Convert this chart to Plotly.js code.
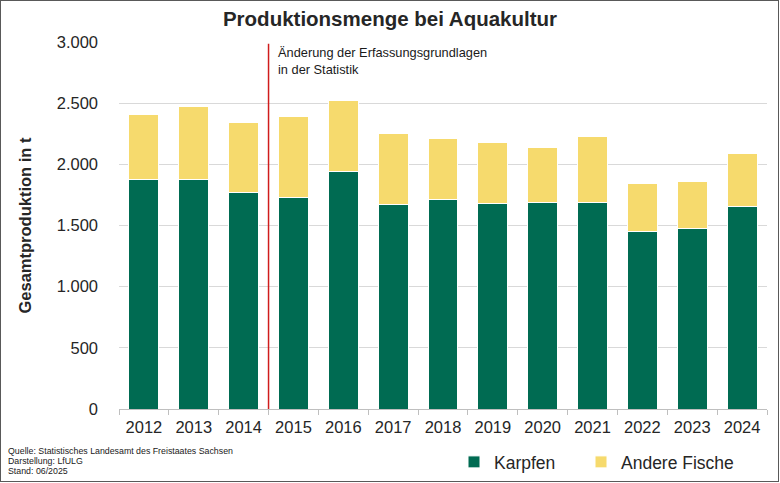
<!DOCTYPE html>
<html>
<head>
<meta charset="utf-8">
<script src="https://cdn.plot.ly/plotly-3.0.1.min.js"></script>
<style>
  html, body { margin: 0; padding: 0; background: #fff; }
  #wrap { position: relative; width: 780px; height: 483px; }
  #chart { width: 780px; height: 483px; }
  #frame { position: absolute; left: 0; top: 0; width: 777px; height: 480px;
           border: 1.5px solid #595959; pointer-events: none; }
</style>
</head>
<body>
<div id="wrap">
  <div id="chart"></div>
  <div id="frame"></div>
</div>
<script>
var years = ['2012', '2013', '2014', '2015', '2016', '2017', '2018',
             '2019', '2020', '2021', '2022', '2023', '2024'];
var karpfen = [1872, 1875, 1768, 1725, 1940, 1673, 1711, 1676, 1690, 1690, 1452, 1474, 1657];
var gesamt = [2406, 2469, 2344, 2393, 2520, 2254, 2210, 2177, 2136, 2226, 1847, 1856, 2087];
var andere = gesamt.map(function (g, i) { return g - karpfen[i]; });

var sourceLines = ['Quelle: Statistisches Landesamt des Freistaates Sachsen',
                   'Darstellung: LfULG',
                   'Stand: 06/2025'];

var W = 780, H = 483;
var plotL = 119, plotR = 767, plotT = 42, plotB = 409;
var pw = plotR - plotL, ph = plotB - plotT;
function px(x) { return (x - plotL) / pw; }
function py(y) { return (plotB - y) / ph; }

var font = 'Liberation Sans, Arial, sans-serif';

var traces = [
    {
        type: 'bar',
        name: 'Karpfen',
        legend: 'legend',
        x: years,
        y: karpfen,
        marker: { color: '#006b52', line: { color: '#ffffff', width: 1 } },
        hoverinfo: 'skip'
    },
    {
        type: 'bar',
        name: 'Andere Fische',
        legend: 'legend2',
        x: years,
        y: andere,
        marker: { color: '#f6da6d', line: { color: '#ffffff', width: 1 } },
        hoverinfo: 'skip'
    }
];

var annotations = [
    {
        xref: 'x', yref: 'y', x: 2.5, y: 2990,
        xanchor: 'left', yanchor: 'top', xshift: 7,
        align: 'left', showarrow: false,
        text: 'Änderung der Erfassungsgrundlagen<br>in der Statistik',
        font: { family: font, size: 12.8, color: '#1a1a1a' }
    }
];
sourceLines.forEach(function (line, i) {
    annotations.push({
        xref: 'paper', yref: 'paper', x: px(6), y: py(451 + i * 10),
        xanchor: 'left', yanchor: 'middle', showarrow: false,
        text: line,
        font: { family: font, size: 8.8, color: '#1a1a1a' }
    });
});

function legendAt(xPix) {
    return {
        orientation: 'h',
        x: px(xPix), xanchor: 'left',
        y: py(462), yanchor: 'middle',
        font: { family: font, size: 17.5, color: '#262626' },
        itemwidth: 30,
        bgcolor: 'rgba(0,0,0,0)'
    };
}

var layout = {
    width: W,
    height: H,
    margin: { l: plotL, r: W - plotR, t: plotT, b: H - plotB, autoexpand: false },
    paper_bgcolor: '#ffffff',
    plot_bgcolor: '#ffffff',
    barmode: 'stack',
    bargap: 0.4,
    separators: ',.',
    title: {
        text: '<b>Produktionsmenge bei Aquakultur</b>',
        x: 0.5, xref: 'container', xanchor: 'center',
        y: 1 - 19 / H, yref: 'container', yanchor: 'middle',
        font: { family: font, size: 20.5, color: '#262626' }
    },
    xaxis: {
        type: 'category',
        showgrid: false,
        showline: true,
        linecolor: '#bfbfbf',
        linewidth: 1,
        ticks: 'outside',
        tickson: 'boundaries',
        ticklen: 5,
        tickcolor: '#bfbfbf',
        tickangle: 0,
        ticklabelstandoff: 3,
        automargin: false,
        tickfont: { family: font, size: 16.5, color: '#262626' }
    },
    yaxis: {
        range: [0, 3000],
        dtick: 500,
        tickformat: ',d',
        showgrid: true,
        gridcolor: '#d9d9d9',
        gridwidth: 1,
        zeroline: false,
        showline: false,
        ticks: '',
        automargin: false,
        ticklabelstandoff: 20,
        tickfont: { family: font, size: 16.5, color: '#262626' },
        title: {
            text: '<b>Gesamtproduktion in t</b>',
            standoff: 20,
            font: { family: font, size: 16.5, color: '#262626' }
        }
    },
    showlegend: true,
    legend: legendAt(454),
    legend2: legendAt(581),
    shapes: [
        {
            type: 'line', xref: 'x', yref: 'y',
            x0: 2.5, x1: 2.5, y0: 0, y1: 2985,
            line: { color: '#d01c1c', width: 1.5 }
        }
    ],
    annotations: annotations
};

Plotly.newPlot('chart', traces, layout, { staticPlot: true, displayModeBar: false });
</script>
</body>
</html>
